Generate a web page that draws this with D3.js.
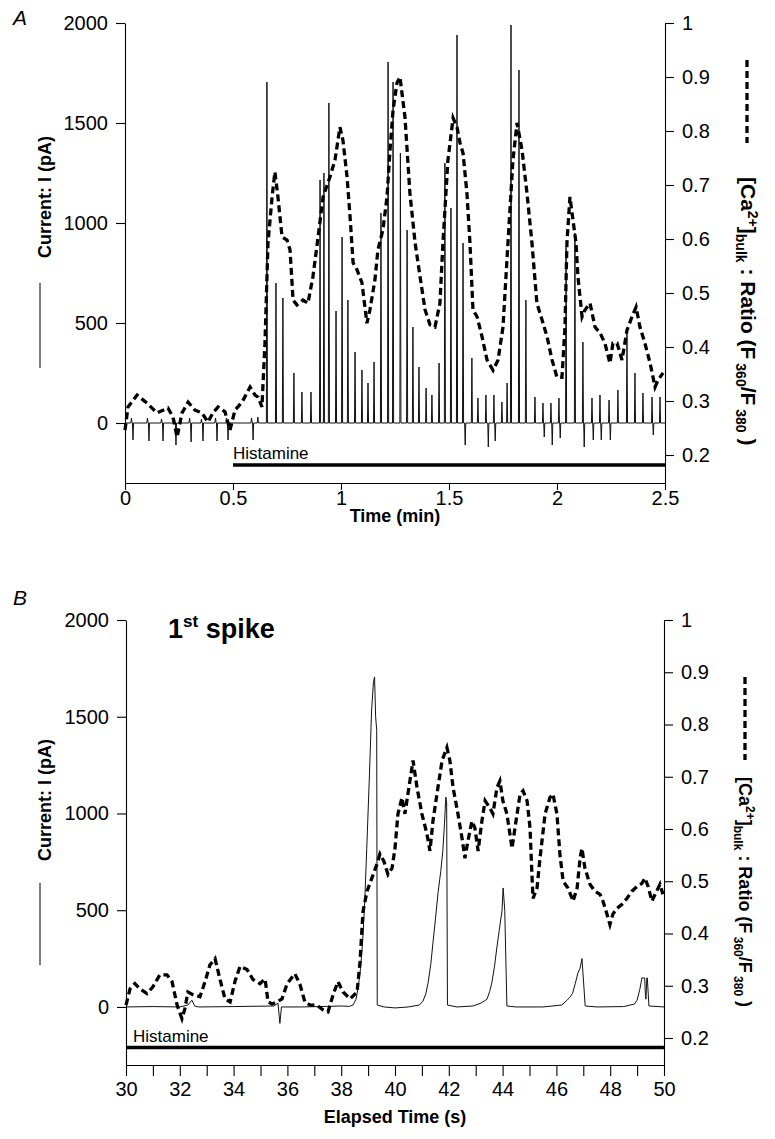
<!DOCTYPE html>
<html><head><meta charset="utf-8">
<script src="https://cdn.jsdelivr.net/npm/d3@7"></script>
<style>
body{margin:0;background:#fff}
svg{display:block}
text{font-family:"Liberation Sans",Arial,Helvetica,sans-serif;fill:#000}
</style>
</head><body>
<svg id="c" width="775" height="1139"></svg>
<script>
// ---------------- DATA ----------------
// Panel A : time (min)
const xTicksA = [0, 0.5, 1, 1.5, 2, 2.5];
const yTicksI = [0, 500, 1000, 1500, 2000];
const yTicksR = [0.2, 0.3, 0.4, 0.5, 0.6, 0.7, 0.8, 0.9, 1];

// upward current spikes (pA) after histamine
const spikeTA = [0.657,0.699,0.731,0.782,0.819,0.861,0.903,0.921,0.944,0.977,1.005,1.032,1.065,1.097,1.125,1.153,1.185,1.218,1.241,1.275,1.306,1.333,1.361,1.394,1.421,1.454,1.481,1.509,1.537,1.565,1.606,1.634,1.671,1.708,1.745,1.769,1.787,1.824,1.856,1.898,1.935,1.972,2.009,2.042,2.083,2.120,2.162,2.199,2.241,2.282,2.324,2.361,2.398,2.440,2.477];
const spikeIA = [1705,700,625,250,155,155,1215,1250,1600,560,930,615,355,265,200,305,1050,1805,1705,1350,965,480,280,175,140,300,1300,1075,1940,900,325,125,140,140,105,200,1990,1765,615,130,100,100,125,880,950,405,125,140,115,165,465,250,150,130,130];
// small upward ticks before histamine
const tickTA = [0.030,0.104,0.169,0.229,0.299,0.354,0.419,0.470,0.586,0.615];
const tickIA = [25,25,20,25,25,20,25,25,25,30];
// downward current deflections (pA)
const dipTA = [0.037,0.111,0.176,0.236,0.306,0.361,0.426,0.477,0.593,1.575,1.682,1.714,1.941,1.978,2.015,2.126,2.168,2.205,2.247,2.446];
const dipIA = [-85,-90,-90,-110,-95,-90,-90,-85,-85,-110,-120,-90,-70,-110,-75,-120,-85,-85,-85,-60];

// Ca ratio (F360/F380), panel A
const ratioTA = [0,0.014,0.056,0.102,0.148,0.199,0.222,0.241,0.264,0.292,0.324,0.356,0.384,0.407,0.431,0.463,0.486,0.509,0.542,0.579,0.602,0.616,0.634,0.648,0.662,0.681,0.694,0.708,0.727,0.75,0.764,0.778,0.796,0.824,0.847,0.870,0.894,0.917,0.949,0.972,0.995,1.009,1.028,1.042,1.056,1.074,1.097,1.120,1.134,1.157,1.171,1.194,1.213,1.227,1.241,1.259,1.273,1.296,1.319,1.343,1.366,1.389,1.412,1.435,1.458,1.472,1.495,1.519,1.537,1.551,1.565,1.583,1.597,1.611,1.630,1.653,1.676,1.704,1.727,1.750,1.773,1.796,1.815,1.838,1.861,1.884,1.907,1.931,1.954,1.977,2.0,2.023,2.037,2.046,2.060,2.074,2.088,2.097,2.116,2.130,2.153,2.176,2.199,2.222,2.245,2.259,2.278,2.301,2.324,2.347,2.366,2.384,2.407,2.431,2.454,2.468,2.491];
const ratioVA = [0.246,0.289,0.311,0.296,0.278,0.287,0.270,0.233,0.278,0.298,0.283,0.278,0.261,0.278,0.289,0.280,0.246,0.283,0.298,0.326,0.311,0.307,0.289,0.407,0.593,0.678,0.724,0.678,0.604,0.598,0.58,0.487,0.478,0.487,0.481,0.530,0.604,0.678,0.715,0.746,0.807,0.783,0.715,0.641,0.556,0.543,0.519,0.444,0.469,0.524,0.580,0.617,0.678,0.765,0.839,0.889,0.900,0.826,0.685,0.593,0.530,0.469,0.441,0.437,0.481,0.593,0.746,0.824,0.807,0.778,0.759,0.685,0.593,0.469,0.456,0.419,0.376,0.357,0.376,0.437,0.593,0.746,0.815,0.765,0.685,0.593,0.481,0.450,0.419,0.376,0.344,0.344,0.437,0.593,0.678,0.635,0.593,0.530,0.456,0.469,0.481,0.437,0.426,0.407,0.370,0.407,0.407,0.376,0.431,0.456,0.474,0.437,0.407,0.370,0.326,0.339,0.352];

const histamineA = [0.5, 2.5];
const histamineB = [30, 50];
const histamineLevel = -210;

// Panel B : elapsed time (s)
const xTicksB = d3.range(30, 51, 1);
const currentTB = [30.0,31.0,32.0,32.3,32.45,32.55,32.7,34.0,35.5,35.65,35.72,35.78,36.5,37.5,38.0,38.3,38.44,38.55,38.63,38.72,38.8,38.88,38.95,39.05,39.13,39.2,39.24,39.28,39.32,39.34,39.6,40.0,40.5,40.9,41.04,41.15,41.23,41.33,41.41,41.5,41.6,41.7,41.78,41.84,41.89,41.92,41.95,42.3,42.9,43.2,43.42,43.52,43.6,43.7,43.79,43.88,43.98,44.02,44.08,44.16,44.5,45.5,46.2,46.4,46.5,46.6,46.7,46.8,46.88,46.95,47.0,47.07,47.5,48.5,48.9,49.0,49.1,49.18,49.28,49.31,49.33,49.36,49.38,49.44,50.0];
const currentIB = [0,2,0,10,35,5,0,2,5,20,-85,0,0,3,5,3,10,40,100,200,345,560,820,1200,1535,1680,1706,1500,1430,10,0,-5,0,10,30,70,125,220,330,450,590,700,810,950,1085,1060,10,0,5,20,40,80,125,210,310,400,500,615,500,5,0,0,10,35,50,70,120,175,200,250,150,5,0,2,15,35,90,150,150,60,40,150,150,5,0];

const ratioTB = [30.00,30.15,30.33,30.52,30.78,31.00,31.26,31.52,31.71,31.90,32.08,32.19,32.30,32.49,32.75,32.94,33.12,33.31,33.49,33.68,33.87,34.05,34.24,34.50,34.72,34.98,35.17,35.28,35.43,35.61,35.80,35.99,36.28,36.47,36.65,36.84,37.10,37.32,37.51,37.70,37.88,38.07,38.33,38.59,38.70,38.81,38.96,39.14,39.33,39.44,39.59,39.74,39.89,40.00,40.11,40.26,40.37,40.48,40.67,40.82,41.00,41.19,41.30,41.41,41.56,41.75,41.93,42.04,42.16,42.34,42.49,42.60,42.71,42.86,42.97,43.09,43.23,43.35,43.53,43.64,43.79,43.90,44.01,44.16,44.35,44.46,44.65,44.76,44.91,45.02,45.09,45.13,45.28,45.39,45.58,45.76,45.87,46.02,46.13,46.25,46.43,46.62,46.77,46.88,46.95,47.06,47.25,47.43,47.62,47.73,47.88,47.99,48.10,48.25,48.44,48.62,48.81,49.00,49.18,49.29,49.41,49.55,49.67,49.85,49.96];
const ratioVB = [0.263,0.294,0.304,0.294,0.285,0.298,0.321,0.321,0.308,0.263,0.237,0.256,0.288,0.283,0.279,0.308,0.340,0.352,0.313,0.275,0.269,0.308,0.337,0.331,0.312,0.304,0.313,0.269,0.265,0.269,0.275,0.304,0.323,0.302,0.269,0.263,0.263,0.254,0.25,0.283,0.308,0.288,0.275,0.288,0.346,0.442,0.481,0.506,0.533,0.552,0.538,0.513,0.525,0.563,0.629,0.660,0.629,0.667,0.731,0.679,0.629,0.590,0.558,0.615,0.667,0.731,0.756,0.731,0.679,0.629,0.583,0.544,0.577,0.615,0.602,0.558,0.615,0.654,0.640,0.629,0.679,0.692,0.654,0.629,0.563,0.602,0.667,0.673,0.654,0.602,0.513,0.467,0.487,0.544,0.629,0.660,0.667,0.629,0.552,0.500,0.487,0.462,0.487,0.544,0.563,0.525,0.494,0.481,0.475,0.462,0.437,0.417,0.437,0.448,0.456,0.467,0.481,0.490,0.496,0.506,0.490,0.462,0.475,0.494,0.475];

// ---------------- DRAW ----------------
const svg = d3.select("#c");
const FONT = '"Liberation Sans",Arial,Helvetica,sans-serif';

function spikeTrace(tArr, iArr, w) {
  const pts = [];
  tArr.forEach((t, k) => pts.push([t - w, 0], [t, iArr[k]], [t + w, 0]));
  return pts;
}

function panel(cfg) {
  const g = svg.append("g");
  const x = d3.scaleLinear().domain(cfg.xDomain).range([cfg.left, cfg.right]);
  const yI = d3.scaleLinear().domain([-300, 2000]).range([cfg.bottom, cfg.top]);
  const r0 = d3.scaleLinear().domain([0.2, 1]).range([cfg.r02, cfg.top]);
  const yR = d3.scaleLinear().domain([r0.invert(cfg.bottom), 1]).range([cfg.bottom, cfg.top]);

  const la = g.append("g").attr("transform", `translate(${cfg.left},0)`)
    .call(d3.axisLeft(yI).tickValues(yTicksI).tickSize(9).tickSizeOuter(0).tickPadding(8).tickFormat(d => String(d)));
  const ra = g.append("g").attr("transform", `translate(${cfg.right},0)`)
    .call(d3.axisRight(yR).tickValues(yTicksR).tickSize(9).tickSizeOuter(0).tickPadding(8).tickFormat(d => String(d)));
  const ba = g.append("g").attr("transform", `translate(0,${cfg.bottom})`)
    .call(d3.axisBottom(x).tickValues(cfg.xTicks).tickSize(cfg.xTickSize).tickSizeOuter(0).tickPadding(cfg.xPad)
      .tickFormat(cfg.xFormat));
  [la, ra, ba].forEach(a => {
    a.attr("font-family", FONT).attr("font-size", 20);
    a.selectAll("path,line").attr("stroke", "#000").attr("stroke-width", 1.1);
  });

  // histamine bar
  g.append("line").attr("x1", x(cfg.hist[0])).attr("x2", x(cfg.hist[1]))
    .attr("y1", yI(histamineLevel)).attr("y2", yI(histamineLevel))
    .attr("stroke", "#000").attr("stroke-width", 3.5);
  g.append("text").attr("x", x(cfg.hist[0]) + cfg.histDx).attr("y", yI(histamineLevel) - 6)
    .attr("font-size", 17).text("Histamine");

  // current trace
  g.append("path").datum(cfg.current)
    .attr("d", d3.line().x(d => x(d[0])).y(d => yI(d[1])))
    .attr("fill", "none").attr("stroke", "#111").attr("stroke-width", 1);

  // ratio trace
  g.append("path").datum(cfg.ratio)
    .attr("d", d3.line().x(d => x(d[0])).y(d => yR(d[1])))
    .attr("fill", "none").attr("stroke", "#000").attr("stroke-width", 3.3)
    .attr("stroke-dasharray", "7,4");

  // left title + legend line
  g.append("text").attr("transform", `translate(51,${cfg.lTitleY}) rotate(-90)`)
    .attr("text-anchor", "middle").attr("font-weight", "bold").attr("font-size", 18)
    .text("Current: I (pA)");
  g.append("line").attr("x1", 40).attr("x2", 40).attr("y1", cfg.lLeg[0]).attr("y2", cfg.lLeg[1])
    .attr("stroke", "#000").attr("stroke-width", 1);

  // right title + legend dashes
  g.append("line").attr("x1", cfg.rLegX).attr("x2", cfg.rLegX).attr("y1", cfg.rLeg[0]).attr("y2", cfg.rLeg[1])
    .attr("stroke", "#000").attr("stroke-width", 3.3).attr("stroke-dasharray", "7,4");
  const rt = g.append("text").attr("transform", `translate(${cfg.rLegX - 6},${cfg.rTitleY}) rotate(90)`)
    .attr("font-weight", "bold").attr("font-size", cfg.rFont);
  const sub = Math.round(cfg.rFont * 0.66);
  const parts = [
    ["[Ca", 0, null], ["2+", -7, sub], ["]", 7, null], ["bulk", 5, sub], [" :  Ratio  (F", -5, null],
    [" 360", 5, sub], ["/F", -5, null], [" 380", 5, sub], [" )", -5, null]
  ];
  parts.forEach(p => {
    const ts = rt.append("tspan").attr("dy", p[1]).text(p[0]);
    if (p[2]) ts.attr("font-size", p[2]);
  });

  // x title
  g.append("text").attr("x", (cfg.left + cfg.right) / 2).attr("y", cfg.xTitleY)
    .attr("text-anchor", "middle").attr("font-weight", "bold").attr("font-size", 18).text(cfg.xTitle);

  // panel letter
  g.append("text").attr("x", 13).attr("y", cfg.letterY).attr("font-style", "italic")
    .attr("font-size", 21).text(cfg.letter);
  return {x, yI, yR, g};
}

// Panel A current trace from the spike lists
const evA = spikeTrace(spikeTA, spikeIA, 0.0025)
  .concat(spikeTrace(tickTA, tickIA, 0.003))
  .concat(spikeTrace(dipTA, dipIA, 0.0025));
evA.sort((a, b) => a[0] - b[0]);
const currentA = [[0, 0]].concat(evA).concat([[2.5, 0]]);

panel({
  xDomain: [0, 2.5], left: 125, right: 665, top: 23, bottom: 483, r02: 455,
  xTicks: xTicksA, xTickSize: 7, xPad: 1, xFormat: d => String(d),
  hist: histamineA, histDx: 0,
  current: currentA, ratio: ratioTA.map((t, k) => [t, ratioVA[k]]),
  lTitleY: 197, lLeg: [283, 368], rLegX: 747, rLeg: [60, 143], rTitleY: 177, rFont: 21,
  xTitle: "Time (min)", xTitleY: 522, letter: "A", letterY: 25
});

panel({
  xDomain: [30, 50], left: 126, right: 664, top: 620, bottom: 1065, r02: 1038,
  xTicks: xTicksB, xTickSize: 11, xPad: 6, xFormat: d => (d % 2 === 0 ? String(d) : ""),
  hist: histamineB, histDx: 7,
  current: currentTB.map((t, k) => [t, currentIB[k]]), ratio: ratioTB.map((t, k) => [t, ratioVB[k]]),
  lTitleY: 800, lLeg: [883, 965], rLegX: 745, rLeg: [677, 760], rTitleY: 777, rFont: 18,
  xTitle: "Elapsed Time (s)", xTitleY: 1123, letter: "B", letterY: 605
});

// "1st spike" annotation
const ann = svg.append("text").attr("x", 168).attr("y", 638).attr("font-weight", "bold").attr("font-size", 27);
ann.append("tspan").text("1");
ann.append("tspan").attr("dy", -11).attr("font-size", 17).text("st");
ann.append("tspan").attr("dy", 11).text(" spike");
</script>
</body></html>
